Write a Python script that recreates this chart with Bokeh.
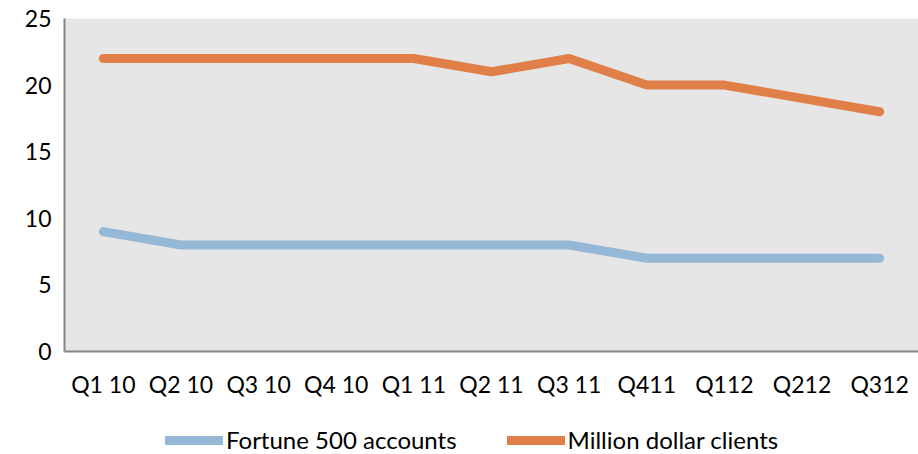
from bokeh.plotting import figure
from bokeh.layouts import column
from bokeh.models import Legend, LegendItem, FactorRange, Range1d, FixedTicker
from bokeh.embed import file_html
from bokeh.resources import INLINE

quarters = ["Q1 10", "Q2 10", "Q3 10", "Q4 10", "Q1 11", "Q2 11", "Q3 11",
            "Q411", "Q112", "Q212", "Q312"]
fortune500 = [9, 8, 8, 8, 8, 8, 8, 7, 7, 7, 7]
million_dollar = [22, 22, 22, 22, 22, 21, 22, 20, 20, 19, 18]
y_ticks = [0, 5, 10, 15, 20, 25]
series_names = ["Fortune 500 accounts", "Million dollar clients"]
series_colors = ["#95b8d7", "#e07f47"]

FONT = "Lato"

p = figure(frame_width=854, frame_height=333,
           x_range=FactorRange(factors=quarters, range_padding=0),
           y_range=Range1d(0, 25), output_backend="svg", toolbar_location=None,
           min_border_top=18, min_border_right=0, min_border_left=64, min_border_bottom=49)

p.background_fill_color = "#e6e6e6"
p.border_fill_color = "white"
p.outline_line_color = None
p.grid.visible = False

p.line(quarters, fortune500, line_color=series_colors[0], line_width=9,
       line_cap="round", line_join="round")
p.line(quarters, million_dollar, line_color=series_colors[1], line_width=9,
       line_cap="round", line_join="round")

p.yaxis.ticker = FixedTicker(ticks=y_ticks)
for ax in (p.xaxis[0], p.yaxis[0]):
    ax.major_tick_line_color = None
    ax.minor_tick_line_color = None
    ax.major_tick_out = 0
    ax.major_tick_in = 0
    ax.minor_tick_out = 0
    ax.axis_line_color = "#868686"
    ax.axis_line_width = 2
    ax.major_label_text_font = FONT
    ax.major_label_text_font_size = "23px"
    ax.major_label_text_color = "black"
p.yaxis.major_label_standoff = 13
p.xaxis.major_label_standoff = 18

# legend strip below the chart (series drawn out of view, only the legend shows)
lg = figure(width=918, height=54, x_axis_type=None, y_axis_type=None,
            x_range=Range1d(0, 1), y_range=Range1d(-100, -99),
            output_backend="svg", toolbar_location=None,
            min_border=0, outline_line_color=None)
lg.grid.visible = False
items = []
for name, color, vals in zip(series_names, series_colors, [fortune500, million_dollar]):
    r = lg.line(x=list(range(len(vals))), y=vals, line_color=color, line_width=9, line_cap="round")
    items.append(LegendItem(label=name, renderers=[r]))

legend = Legend(items=items, orientation="horizontal", location=(101, 0),
                label_text_font=FONT, label_text_font_size="24px", label_text_color="black",
                glyph_width=58, glyph_height=20, label_standoff=3, spacing=50,
                border_line_color=None, background_fill_alpha=0,
                padding=0, margin=0)
lg.add_layout(legend, "center")

layout = column(p, lg, spacing=0)

open("out.html", "w").write(file_html(layout, INLINE))
